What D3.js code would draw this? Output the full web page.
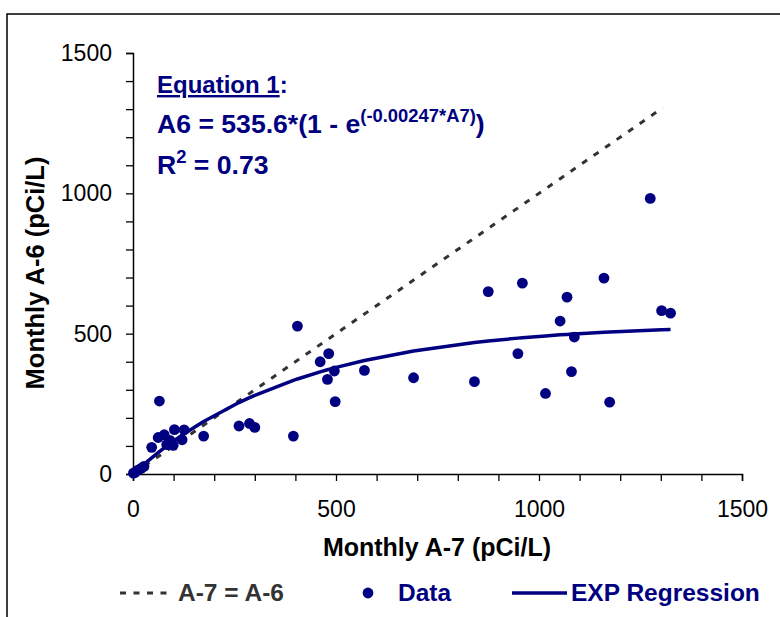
<!DOCTYPE html>
<html>
<head>
<meta charset="utf-8">
<script src="https://cdn.jsdelivr.net/npm/d3@7"></script>
<style>
  html, body { margin: 0; padding: 0; background: #fff; }
  svg { display: block; }
  text { font-family: "Liberation Sans", Arial, sans-serif; }
</style>
</head>
<body>
<svg id="chart" width="780" height="617"></svg>
<script>
// Monthly A-7 vs A-6 concentrations (pCi/L)
const a7Values = [1, 5, 12, 20, 27, 46, 62, 65, 77, 83, 91, 99, 102, 121, 126, 174,
  261, 287, 300, 395, 405, 461, 479, 482, 496, 498, 570, 691, 841, 875, 948, 959,
  1016, 1052, 1069, 1080, 1087, 1160, 1174, 1274, 1302, 1324];
const a6Values = [3, 6, 14, 20, 27, 95, 130, 260, 140, 105, 120, 102, 158, 122, 157, 135,
  171, 180, 166, 135, 527, 400, 337, 429, 367, 258, 369, 343, 329, 650, 429, 680,
  287, 545, 630, 365, 488, 698, 256, 982, 582, 573];

// Fitted exponential model: A6 = 535.6*(1 - e^(-0.00247*A7))
const fitAmplitude = 535.6;
const fitRate = 0.00247;
// One-to-one reference line extent (A-7 = A-6)
const identityExtent = [0, 1305];

const xTicks = d3.range(0, 1501, 100);
const yTicks = d3.range(0, 1501, 100);
const labelStep = 500;

const navy = "#000080";
const svg = d3.select("#chart");

// outer frame
svg.append("path")
  .attr("d", "M7,620 L7,14 L790,14")
  .attr("fill", "none").attr("stroke", "#000").attr("stroke-width", 1.5);

const x = d3.scaleLinear().domain([0, 1500]).range([133, 742]);
const y = d3.scaleLinear().domain([0, 1500]).range([474, 53]);

const fmt = d => (d % labelStep === 0 ? d3.format("d")(d) : "");

// axes
const xAxis = svg.append("g").attr("transform", "translate(0,474)")
  .call(d3.axisBottom(x).tickValues(xTicks).tickFormat(fmt).tickSize(7).tickPadding(20));
const yAxis = svg.append("g").attr("transform", "translate(133,0)")
  .call(d3.axisLeft(y).tickValues(yTicks).tickFormat(fmt).tickSize(7).tickPadding(14));
[xAxis, yAxis].forEach(g => {
  g.select(".domain").attr("stroke", "#000").attr("stroke-width", 1.5);
  g.selectAll(".tick line").attr("stroke", "#000").attr("stroke-width", 1.3);
  g.selectAll(".tick text").attr("font-size", 23).attr("fill", "#000")
    .style("font-family", "'Liberation Sans', Arial, sans-serif");
});

// axis titles
svg.append("text")
  .attr("x", 437).attr("y", 556).attr("text-anchor", "middle")
  .attr("font-size", 25).attr("font-weight", "bold").attr("fill", "#000")
  .text("Monthly A-7 (pCi/L)");
svg.append("text")
  .attr("transform", "translate(44,273) rotate(-90)").attr("text-anchor", "middle")
  .attr("font-size", 25.5).attr("font-weight", "bold").attr("fill", "#000")
  .text("Monthly A-6 (pCi/L)");

// one-to-one dashed line
svg.append("line")
  .attr("x1", x(identityExtent[0])).attr("y1", y(identityExtent[0]))
  .attr("x2", x(identityExtent[1])).attr("y2", y(identityExtent[1]))
  .attr("stroke", "#333").attr("stroke-width", 3).attr("stroke-dasharray", "6,8");

// regression curve evaluated at the observed A-7 values
const fitX = [0].concat(a7Values.slice().sort((a, b) => a - b));
const fitPts = fitX.map(v => [v, fitAmplitude * (1 - Math.exp(-fitRate * v))]);
svg.append("path")
  .datum(fitPts)
  .attr("d", d3.line().x(d => x(d[0])).y(d => y(d[1])))
  .attr("fill", "none").attr("stroke", navy).attr("stroke-width", 3.5)
  .attr("stroke-linejoin", "round");

// data points
svg.append("g").selectAll("circle")
  .data(a7Values.map((v, i) => [v, a6Values[i]]))
  .join("circle")
  .attr("cx", d => x(d[0])).attr("cy", d => y(d[1])).attr("r", 5.4)
  .attr("fill", navy);

// equation annotation
const eq = svg.append("g").attr("fill", navy).attr("font-weight", "bold");
const t1 = eq.append("text").attr("x", 157).attr("y", 93).attr("font-size", 24);
t1.append("tspan").attr("text-decoration", "underline").text("Equation 1");
t1.append("tspan").text(":");
const t2 = eq.append("text").attr("x", 157).attr("y", 133).attr("font-size", 26.6);
t2.append("tspan").text("A6 = 535.6*(1 - e");
t2.append("tspan").attr("font-size", 18.4).attr("dy", -11).text("(-0.00247*A7)");
t2.append("tspan").attr("dy", 11).text(")");
const t3 = eq.append("text").attr("x", 157).attr("y", 174).attr("font-size", 26.6);
t3.append("tspan").text("R");
t3.append("tspan").attr("font-size", 18.4).attr("dy", -11).text("2");
t3.append("tspan").attr("dy", 11).text(" = 0.73");

// legend
const lg = svg.append("g").attr("font-weight", "bold").attr("font-size", 24.5);
lg.append("line").attr("x1", 120).attr("x2", 173).attr("y1", 593).attr("y2", 593)
  .attr("stroke", "#333").attr("stroke-width", 3).attr("stroke-dasharray", "6,7.5");
lg.append("text").attr("x", 178).attr("y", 601).attr("fill", "#333").text("A-7 = A-6");
lg.append("circle").attr("cx", 368).attr("cy", 593).attr("r", 5.4).attr("fill", navy);
lg.append("text").attr("x", 398).attr("y", 601).attr("fill", navy).text("Data");
lg.append("line").attr("x1", 512).attr("x2", 567).attr("y1", 593).attr("y2", 593)
  .attr("stroke", navy).attr("stroke-width", 3.5);
lg.append("text").attr("x", 571).attr("y", 601).attr("fill", navy).text("EXP Regression");
</script>
</body>
</html>
